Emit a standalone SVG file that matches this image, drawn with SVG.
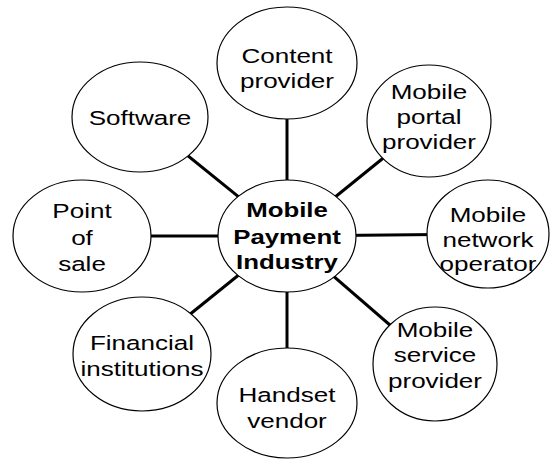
<svg xmlns="http://www.w3.org/2000/svg" width="552" height="459" viewBox="0 0 552 459">
<style>
.n{fill:#fff;stroke:#000;stroke-width:1.2}
.t{font-family:"Liberation Sans",Arial,sans-serif;font-size:20.5px;fill:#000;text-anchor:middle}
.b{font-weight:bold}
.c line{stroke:#000;stroke-width:3}
</style>
<rect width="552" height="459" fill="#fff"/>
<g id="connectors" class="c">
<line x1="287" y1="236" x2="287" y2="63"/>
<line x1="287" y1="236" x2="429" y2="121"/>
<line x1="287" y1="236" x2="488" y2="234"/>
<line x1="287" y1="236" x2="435" y2="364"/>
<line x1="287" y1="236" x2="287" y2="404"/>
<line x1="287" y1="236" x2="142" y2="353"/>
<line x1="287" y1="236" x2="82" y2="236"/>
<line x1="287" y1="236" x2="140" y2="117"/>
</g>
<g id="center">
<ellipse class="n" cx="287" cy="236" rx="69" ry="56"/>
<text class="t b" transform="translate(287 0) scale(1.26 1)"><tspan x="0" y="217">Mobile</tspan><tspan x="0" y="244">Payment</tspan><tspan x="0" y="269">Industry</tspan></text>
</g>
<g id="content">
<ellipse class="n" cx="287" cy="63" rx="70" ry="56"/>
<text class="t" transform="translate(287 0) scale(1.27 1)"><tspan x="0" y="63">Content</tspan><tspan x="0" y="88">provider</tspan></text>
</g>
<g id="portal">
<ellipse class="n" cx="429" cy="121" rx="62" ry="56"/>
<text class="t" transform="translate(429 0) scale(1.27 1)"><tspan x="0" y="99">Mobile</tspan><tspan x="0" y="124">portal</tspan><tspan x="0" y="149">provider</tspan></text>
</g>
<g id="network">
<ellipse class="n" cx="488" cy="234" rx="61" ry="54"/>
<text class="t" transform="translate(488 0) scale(1.27 1)"><tspan x="0" y="222">Mobile</tspan><tspan x="0" y="247">network</tspan><tspan x="0" y="271">operator</tspan></text>
</g>
<g id="service">
<ellipse class="n" cx="435" cy="364" rx="62" ry="57"/>
<text class="t" transform="translate(435 0) scale(1.27 1)"><tspan x="0" y="337">Mobile</tspan><tspan x="0" y="362">service</tspan><tspan x="0" y="388">provider</tspan></text>
</g>
<g id="handset">
<ellipse class="n" cx="287" cy="403" rx="70" ry="55"/>
<text class="t" transform="translate(287 0) scale(1.27 1)"><tspan x="0" y="402">Handset</tspan><tspan x="0" y="428">vendor</tspan></text>
</g>
<g id="financial">
<ellipse class="n" cx="142" cy="354" rx="69" ry="57"/>
<text class="t" transform="translate(142 0) scale(1.27 1)"><tspan x="0" y="350">Financial</tspan><tspan x="0" y="376">institutions</tspan></text>
</g>
<g id="pos">
<ellipse class="n" cx="82" cy="236" rx="69" ry="56"/>
<text class="t" transform="translate(82 0) scale(1.27 1)"><tspan x="0" y="218">Point</tspan><tspan x="0" y="245">of</tspan><tspan x="0" y="271">sale</tspan></text>
</g>
<g id="software">
<ellipse class="n" cx="140" cy="117" rx="68" ry="55"/>
<text class="t" transform="translate(140 0) scale(1.27 1)"><tspan x="0" y="125">Software</tspan></text>
</g>
</svg>
